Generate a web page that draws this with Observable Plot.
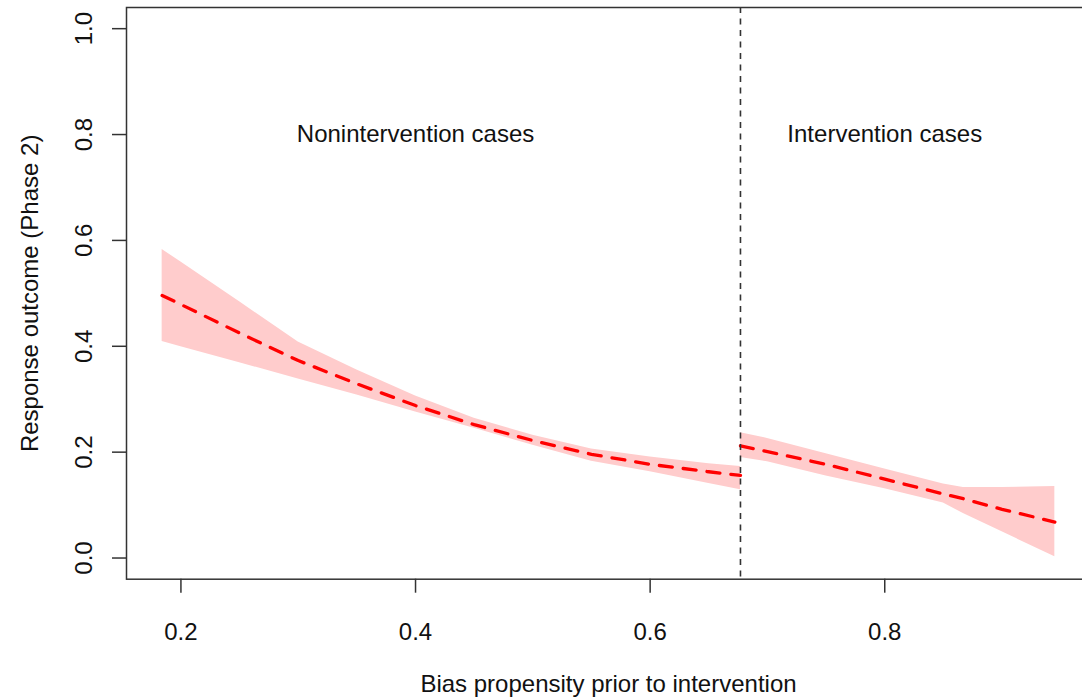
<!DOCTYPE html>
<html>
<head>
<meta charset="utf-8">
<script src="https://cdn.jsdelivr.net/npm/d3@7"></script>
<script src="https://cdn.jsdelivr.net/npm/@observablehq/plot@0.6"></script>
<style>
  html, body { margin: 0; padding: 0; background: #fff; }
  #chart { width: 1082px; height: 698px; overflow: hidden; }
</style>
</head>
<body>
<div id="chart"></div>
<script>
// ---- data ----
const leftX     = [0.184, 0.2,   0.25,  0.3,   0.35,  0.4,   0.45,  0.5,   0.55,  0.6,   0.65,  0.677];
const leftFit   = [0.496, 0.479, 0.425, 0.373, 0.329, 0.288, 0.252, 0.222, 0.196, 0.177, 0.163, 0.156];
const leftUpper = [0.583, 0.559, 0.484, 0.408, 0.355, 0.306, 0.264, 0.232, 0.206, 0.191, 0.178, 0.173];
const leftLower = [0.409, 0.399, 0.369, 0.338, 0.308, 0.276, 0.245, 0.213, 0.183, 0.163, 0.141, 0.129];

const rightX     = [0.677,  0.7,   0.75,  0.8,   0.85,  0.867, 0.9,    0.945];
const rightFit   = [0.212,  0.201, 0.177, 0.149, 0.121, 0.112, 0.092,  0.068];
const rightUpper = [0.2365, 0.226, 0.197, 0.168, 0.140, 0.133, 0.133,  0.135];
const rightLower = [0.190,  0.182, 0.155, 0.131, 0.104, 0.084, 0.0495, 0.0025];

const cutoff = 0.677;
const xTicks = [0.2, 0.4, 0.6, 0.8];
const yTicks = [0.0, 0.2, 0.4, 0.6, 0.8, 1.0];
const annotations = [
  {x: 0.4, y: 0.8, label: "Nonintervention cases"},
  {x: 0.8, y: 0.8, label: "Intervention cases"}
];
const xTitle = "Bias propensity prior to intervention";
const yTitle = "Response outcome (Phase 2)";

// ---- build tables ----
const left = leftX.map((x, i) => ({x, fit: leftFit[i], lo: leftLower[i], hi: leftUpper[i]}));
const right = rightX.map((x, i) => ({x, fit: rightFit[i], lo: rightLower[i], hi: rightUpper[i]}));

const font = "'Liberation Sans', Arial, sans-serif";
const FS = 24;

const chart = Plot.plot({
  width: 1082,
  height: 698,
  marginLeft: 126,
  marginRight: -8,
  marginTop: 7,
  marginBottom: 119.3,
  style: {fontFamily: font, fontSize: FS + "px", color: "#111", background: "#fff", overflow: "visible"},
  x: {domain: [0.1536, 0.9754]},
  y: {domain: [-0.04, 1.04]},
  marks: [
    Plot.areaY(left, {x: "x", y1: "lo", y2: "hi", fill: "#FFCCCC"}),
    Plot.areaY(right, {x: "x", y1: "lo", y2: "hi", fill: "#FFCCCC"}),
    Plot.line(left, {x: "x", y: "fit", stroke: "red", strokeWidth: 3.3, strokeDasharray: "13,11"}),
    Plot.line(right, {x: "x", y: "fit", stroke: "red", strokeWidth: 3.3, strokeDasharray: "13,11"}),
    Plot.ruleX([cutoff], {stroke: "#333", strokeWidth: 1.6, strokeDasharray: "6,5.5"}),
    Plot.frame({stroke: "#333", strokeWidth: 1.5}),
    Plot.axisX({ticks: xTicks, tickSize: 14, tickPadding: 30, tickFormat: d => d.toFixed(1),
                fontSize: FS, label: null, stroke: "#333", strokeWidth: 1.5, fill: "#111"}),
    Plot.axisY({ticks: yTicks, tickSize: 14, tickFormat: () => "", label: null, stroke: "#333", strokeWidth: 1.5}),
    Plot.text(yTicks, {y: d => d, frameAnchor: "left", dx: -42.5, rotate: -90, textAnchor: "middle",
                       text: d => d.toFixed(1), fontSize: FS, lineAnchor: "middle", fill: "#111"}),
    Plot.text(annotations, {x: "x", y: "y", text: "label", fontSize: FS, lineAnchor: "middle", fill: "#111"}),
    Plot.text([xTitle], {frameAnchor: "bottom", dy: 96, lineAnchor: "top", text: d => d, fontSize: FS, fill: "#111"}),
    Plot.text([yTitle], {frameAnchor: "left", dx: -96.5, rotate: -90, textAnchor: "middle", lineAnchor: "middle",
                         text: d => d, fontSize: FS, fill: "#111"})
  ]
});
document.getElementById("chart").appendChild(chart);
</script>
</body>
</html>
